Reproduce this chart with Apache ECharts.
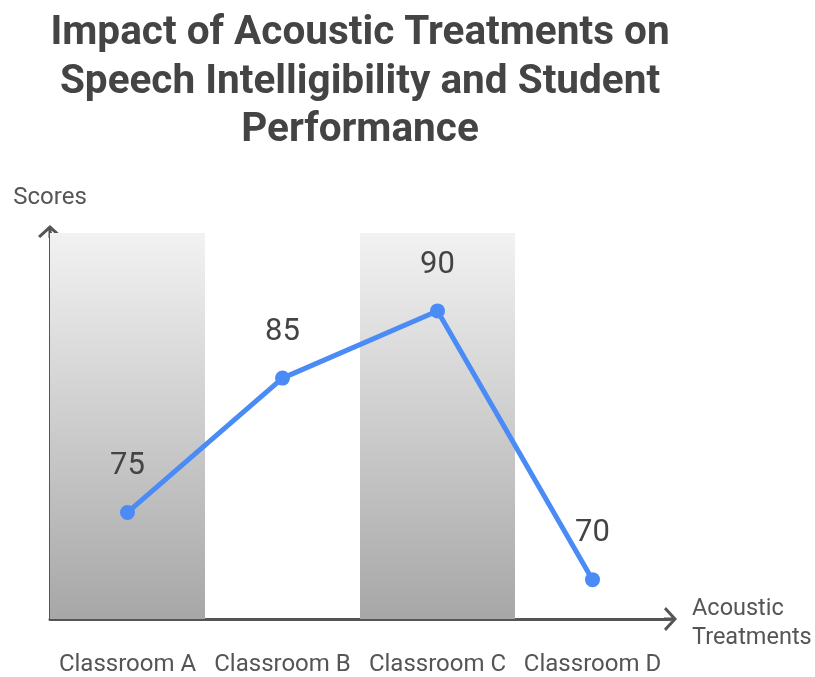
<!DOCTYPE html>
<html>
<head>
<meta charset="utf-8">
<script src="https://cdn.jsdelivr.net/npm/echarts@6/dist/echarts.min.js"></script>
<style>html,body{margin:0;padding:0;background:#fff}#c{width:815px;height:677px}</style>
</head>
<body>
<div id="c"></div>
<script>
const categories = ['Classroom A', 'Classroom B', 'Classroom C', 'Classroom D'];
const scores = [75, 85, 90, 70];
const shaded = [1, null, 1, null];
const titleText = 'Impact of Acoustic Treatments on\nSpeech Intelligibility and Student\nPerformance';
const xName = ['Acoustic', 'Treatments'];

const arrowHead = 'path://M0,11 L12,0 L24,11 L21.8,13 L13.5,5.4 L13.5,13 L10.5,13 L10.5,5.4 L2.2,13 Z';
const chart = echarts.init(document.getElementById('c'));
chart.setOption({
  backgroundColor: '#fff',
  animation: false,
  title: {
    text: titleText,
    left: 355, top: 5, textAlign: 'center',
    textStyle: { fontFamily: 'Roboto', fontWeight: 'bold', fontSize: 40.5, lineHeight: 48.5, color: '#444' }
  },
  grid: { left: 50, top: 233, width: 620, height: 388, containLabel: false },
  xAxis: {
    type: 'category', data: categories, boundaryGap: true,
    name: '{s| }\n{n|' + xName[0] + '}\n{n|' + xName[1] + '}', nameLocation: 'end', nameGap: 22,
    nameTextStyle: { fontFamily: 'Roboto', fontSize: 23.5, color: '#555', align: 'left', verticalAlign: 'middle',
      rich: {
        s: { fontSize: 8, lineHeight: 10 },
        n: { fontFamily: 'Roboto', fontSize: 23.5, color: '#555', lineHeight: 29 }
      } },
    axisLine: { lineStyle: { color: '#555', width: 3 }, symbol: ['none', arrowHead], symbolSize: [24, 13], symbolOffset: [0, 0.5] },
    axisTick: { show: false },
    axisLabel: { interval: 0, hideOverlap: false, fontFamily: 'Roboto', fontSize: 24, color: '#555', margin: 34 }
  },
  yAxis: [{
    type: 'value', min: 67.07, max: 95.8,
    name: 'Scores', nameLocation: 'end', nameGap: 23,
    nameTextStyle: { fontFamily: 'Roboto', fontSize: 24, color: '#555', align: 'center' },
    axisLine: { show: true, lineStyle: { color: '#555', width: 3 }, symbol: ['none', arrowHead], symbolSize: [24, 13], symbolOffset: [0, 1.5] },
    axisTick: { show: false }, axisLabel: { show: false }, splitLine: { show: false }
  }, {
    type: 'value', min: 0, max: 1, show: false
  }],
  series: [{
    type: 'bar', yAxisIndex: 1, data: shaded, barWidth: '100%', silent: true,
    itemStyle: { color: new echarts.graphic.LinearGradient(0, 0, 0, 1, [
      { offset: 0, color: '#f2f2f2' }, { offset: 1, color: '#a7a7a7' }]) },
    z: 1
  }, {
    type: 'line', data: scores, yAxisIndex: 0,
    lineStyle: { color: '#4b8bf5', width: 5 },
    itemStyle: { color: '#4b8bf5' },
    symbol: 'circle', symbolSize: 15, showAllSymbol: true,
    label: { show: true, position: 'top', distance: 23, fontFamily: 'Roboto', fontSize: 31, color: '#444' },
    z: 3
  }]
});
</script>
</body>
</html>
